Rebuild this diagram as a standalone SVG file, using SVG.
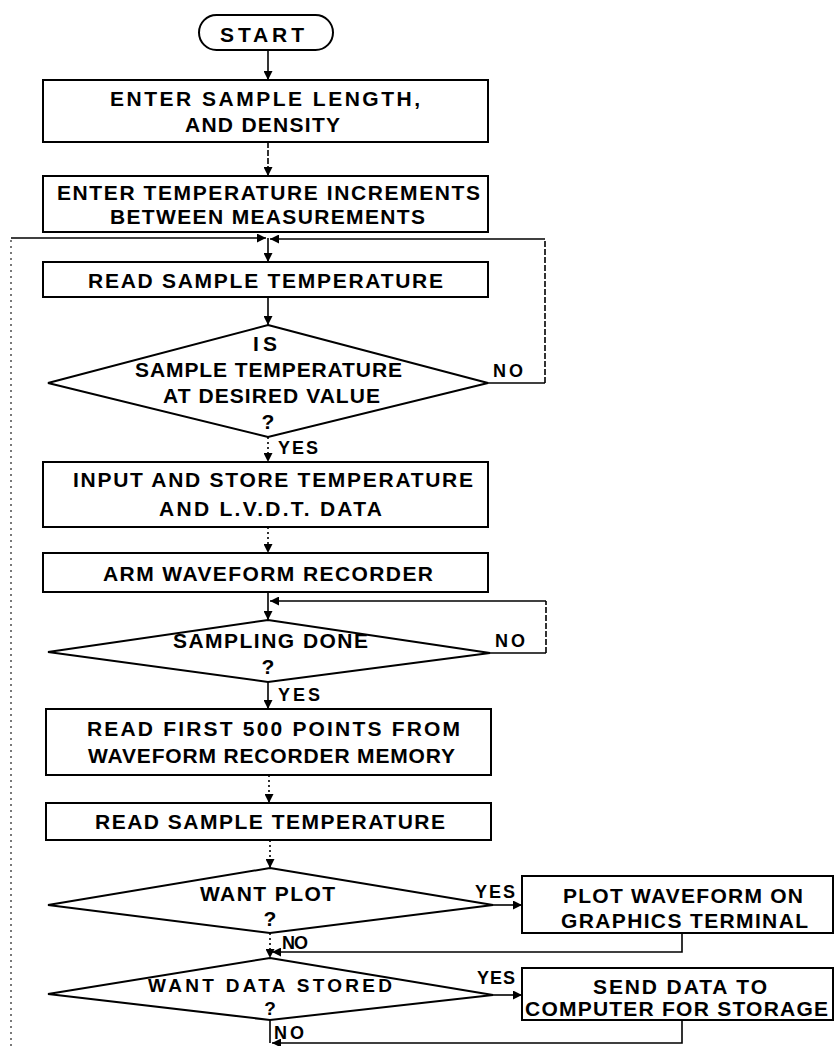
<svg xmlns="http://www.w3.org/2000/svg" width="835" height="1046" viewBox="0 0 835 1046">
<style>
.box{fill:#fff;stroke:#000;stroke-width:2}
.t{font-family:"Liberation Sans",Arial,sans-serif;font-weight:bold;font-size:21px;fill:#000;text-anchor:middle}
.s{font-size:19px}
.lbl{font-family:"Liberation Sans",Arial,sans-serif;font-weight:bold;font-size:18px;fill:#000}
.c{fill:none;stroke:#000;stroke-width:1.6}
.dash{stroke-dasharray:6 2}
.dot{stroke-dasharray:2 3}
.ret{fill:none;stroke:#333;stroke-width:1.3;stroke-dasharray:2 4}
</style>
<defs>
<marker id="ah" viewBox="0 0 10 10" refX="10" refY="5" markerWidth="10" markerHeight="9" markerUnits="userSpaceOnUse" orient="auto">
<path d="M0,0 L10,5 L0,10 z" fill="#000"/>
</marker>
</defs>

<g id="connectors">
<path class="c" d="M268,50 V80" marker-end="url(#ah)"/>
<path class="c dash" d="M268,142 V176" marker-end="url(#ah)"/>
<path class="ret" d="M11,1046 V238"/>
<path class="c" d="M11,238 H266" marker-end="url(#ah)"/>
<path class="c" d="M268,238 V262" marker-end="url(#ah)"/>
<path class="c" d="M268,297 V325" marker-end="url(#ah)"/>
<path class="c" d="M488,383 H545"/>
<path class="c dash" d="M545,383 V239"/>
<path class="c" d="M545,239 H270" marker-end="url(#ah)"/>
<path class="c dot" d="M268,437 V462" marker-end="url(#ah)"/>
<path class="c dot" d="M268,527 V553" marker-end="url(#ah)"/>
<path class="c" d="M268,592 V620" marker-end="url(#ah)"/>
<path class="c" d="M490,653 H546"/>
<path class="c dash" d="M546,653 V601"/>
<path class="c" d="M546,601 H270" marker-end="url(#ah)"/>
<path class="c" d="M268,682 V709" marker-end="url(#ah)"/>
<path class="c dot" d="M269,775 V803" marker-end="url(#ah)"/>
<path class="c dot" d="M270,840 V868" marker-end="url(#ah)"/>
<path class="c" d="M493,905 H522" marker-end="url(#ah)"/>
<path class="c dot" d="M270,933 V958" marker-end="url(#ah)"/>
<path class="c" d="M682,933 V952 H272" marker-end="url(#ah)"/>
<path class="c" d="M493,995 H522" marker-end="url(#ah)"/>
<path class="c" d="M270,1020 V1043"/>
<path class="c" d="M682,1020 V1043 H272" marker-end="url(#ah)"/>
</g>

<g id="start">
<rect class="box" x="199" y="15" width="134" height="35" rx="17.5"/>
<text class="t" x="262" y="42" textLength="84" lengthAdjust="spacing">START</text>
</g>

<g id="enter-length">
<rect class="box" x="43" y="80" width="445" height="62"/>
<text class="t" x="265" y="106" textLength="310" lengthAdjust="spacing">ENTER SAMPLE LENGTH,</text>
<text class="t" x="262.5" y="132" textLength="155" lengthAdjust="spacing">AND DENSITY</text>
</g>

<g id="enter-increments">
<rect class="box" x="43" y="176" width="445" height="56"/>
<text class="t" x="268.5" y="200" textLength="423" lengthAdjust="spacing">ENTER TEMPERATURE INCREMENTS</text>
<text class="t" x="267.5" y="224" textLength="315" lengthAdjust="spacing">BETWEEN MEASUREMENTS</text>
</g>

<g id="read-temp-1">
<rect class="box" x="43" y="262" width="445" height="35"/>
<text class="t" x="265.5" y="288" textLength="355" lengthAdjust="spacing">READ SAMPLE TEMPERATURE</text>
</g>

<g id="decision-temp">
<polygon class="box" points="268,325 488,383 268,437 48,383"/>
<text class="t" x="265" y="351" textLength="24" lengthAdjust="spacing">IS</text>
<text class="t" x="268.5" y="377" textLength="267" lengthAdjust="spacing">SAMPLE TEMPERATURE</text>
<text class="t" x="271.5" y="403" textLength="217" lengthAdjust="spacing">AT DESIRED VALUE</text>
<text class="t" x="268" y="429">?</text>
<text class="lbl" x="493" y="377" textLength="30" lengthAdjust="spacing">NO</text>
<text class="lbl" x="278" y="454" textLength="40" lengthAdjust="spacing">YES</text>
</g>

<g id="input-store">
<rect class="box" x="43" y="462" width="445" height="65"/>
<text class="t" x="273" y="487" textLength="400" lengthAdjust="spacing">INPUT AND STORE TEMPERATURE</text>
<text class="t" x="270.5" y="516" textLength="223" lengthAdjust="spacing">AND L.V.D.T. DATA</text>
</g>

<g id="arm-recorder">
<rect class="box" x="43" y="553" width="445" height="39"/>
<text class="t" x="268" y="581" textLength="330" lengthAdjust="spacing">ARM WAVEFORM RECORDER</text>
</g>

<g id="decision-sampling">
<polygon class="box" points="268,620 490,653 268,682 48,652"/>
<text class="t" x="270.5" y="648" textLength="195" lengthAdjust="spacing">SAMPLING DONE</text>
<text class="t" x="268" y="674">?</text>
<text class="lbl" x="495" y="647" textLength="30" lengthAdjust="spacing">NO</text>
<text class="lbl" x="278" y="701" textLength="42" lengthAdjust="spacing">YES</text>
</g>

<g id="read-500">
<rect class="box" x="46" y="709" width="445" height="66"/>
<text class="t" x="273.5" y="736" textLength="373" lengthAdjust="spacing">READ FIRST 500 POINTS FROM</text>
<text class="t" x="271.5" y="763" textLength="367" lengthAdjust="spacing">WAVEFORM RECORDER MEMORY</text>
</g>

<g id="read-temp-2">
<rect class="box" x="46" y="803" width="445" height="37"/>
<text class="t" x="270" y="829" textLength="350" lengthAdjust="spacing">READ SAMPLE TEMPERATURE</text>
</g>

<g id="decision-plot">
<polygon class="box" points="270,868 493,905 270,933 48,905"/>
<text class="t" x="267.5" y="901" textLength="135" lengthAdjust="spacing">WANT PLOT</text>
<text class="t" x="270" y="926">?</text>
<text class="lbl" x="475" y="898" textLength="40" lengthAdjust="spacing">YES</text>
<text class="lbl" x="282" y="949" textLength="26" lengthAdjust="spacing">NO</text>
</g>

<g id="plot-waveform">
<rect class="box" x="522" y="876" width="311" height="57"/>
<text class="t" x="683" y="903" textLength="240" lengthAdjust="spacing">PLOT WAVEFORM ON</text>
<text class="t" x="684.5" y="928" textLength="247" lengthAdjust="spacing">GRAPHICS TERMINAL</text>
</g>

<g id="decision-store">
<polygon class="box" points="270,958 493,995 270,1020 48,994"/>
<text class="t s" x="270" y="992" textLength="244" lengthAdjust="spacing">WANT DATA STORED</text>
<text class="t s" x="270" y="1015">?</text>
<text class="lbl" x="477" y="984" textLength="38" lengthAdjust="spacing">YES</text>
<text class="lbl" x="274" y="1039" textLength="30" lengthAdjust="spacing">NO</text>
</g>

<g id="send-data">
<rect class="box" x="522" y="968" width="311" height="52"/>
<text class="t" x="680" y="994" textLength="174" lengthAdjust="spacing">SEND DATA TO</text>
<text class="t" x="676.5" y="1016" textLength="303" lengthAdjust="spacing">COMPUTER FOR STORAGE</text>
</g>
</svg>
